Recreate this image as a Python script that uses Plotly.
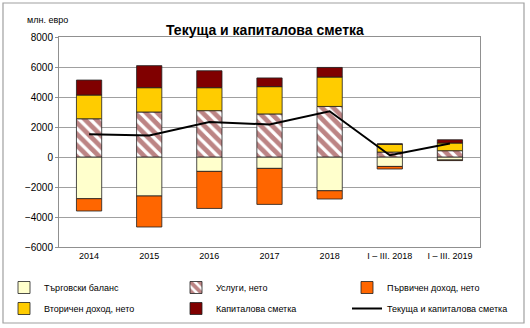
import plotly.graph_objects as go

categories = ["2014", "2015", "2016", "2017", "2018", "I – III. 2018", "I – III. 2019"]
trade_balance = [-2780, -2600, -960, -760, -2250, -630, -200]
services = [2550, 3000, 3090, 2870, 3370, 330, 420]
primary_income = [-820, -2067, -2470, -2400, -550, -170, -40]
secondary_income = [1580, 1620, 1530, 1820, 1960, 520, 510]
capital_account = [1000, 1470, 1130, 580, 640, 30, 220]
current_capital = [1510, 1440, 2330, 2170, 3050, 120, 900]

tick_vals = [-6000, -4000, -2000, 0, 2000, 4000, 6000, 8000]

FONT = "Liberation Sans, Arial, sans-serif"
bar_line = dict(color="#202020", width=0.8)
W = 0.42

fig = go.Figure()
fig.add_trace(go.Bar(x=categories, y=trade_balance, name="Търговски баланс", width=W,
                     legend="legend", legendgroup="a",
                     marker=dict(color="#FFFFCC", line=bar_line)))
fig.add_trace(go.Bar(x=categories, y=services, name="Услуги, нето", width=W,
                     legend="legend2", legendgroup="b",
                     marker=dict(color="white", line=bar_line,
                                 pattern=dict(shape="\\", fgcolor="#7A0A0A", bgcolor="white",
                                              size=8, solidity=0.6))))
fig.add_trace(go.Bar(x=categories, y=primary_income, name="Първичен доход, нето", width=W,
                     legend="legend3", legendgroup="c",
                     marker=dict(color="#FF6600", line=bar_line)))
fig.add_trace(go.Bar(x=categories, y=secondary_income, name="Вторичен доход, нето", width=W,
                     legend="legend", legendgroup="d",
                     marker=dict(color="#FFCC00", line=bar_line)))
fig.add_trace(go.Bar(x=categories, y=capital_account, name="Капиталова сметка", width=W,
                     legend="legend2", legendgroup="e",
                     marker=dict(color="#800000", line=bar_line)))
fig.add_trace(go.Scatter(x=categories, y=current_capital, name="Текуща и капиталова сметка",
                         legend="legend3", legendgroup="f",
                         mode="lines", line=dict(color="black", width=2)))

L, T, PW, PH = 59, 37, 421, 210


def leg(xpx):
    return dict(orientation="v", x=(xpx - L) / PW, y=(T + PH - 273) / PH,
                xanchor="left", yanchor="top", traceorder="grouped", tracegroupgap=2,
                font=dict(size=9, family=FONT), itemwidth=30, bgcolor="rgba(0,0,0,0)")


fig.update_layout(
    width=530, height=328,
    margin=dict(l=L, r=530 - L - PW, t=T, b=328 - T - PH, autoexpand=False),
    barmode="relative",
    paper_bgcolor="white", plot_bgcolor="white",
    font=dict(family=FONT, size=9, color="black"),
    showlegend=True,
    legend=leg(4), legend2=leg(176), legend3=leg(347),
    annotations=[
        dict(text="<b>Текуща и капиталова сметка</b>", x=(265 - L) / PW, y=(T + PH - 20) / PH,
             xref="paper", yref="paper", showarrow=False, font=dict(size=14, family=FONT)),
        dict(text="млн. евро", x=(25 - L) / PW, y=(T + PH - 20) / PH, xref="paper", yref="paper",
             xanchor="left", yanchor="middle", showarrow=False, font=dict(size=9, family=FONT)),
    ],
    shapes=[
        dict(type="rect", xref="paper", yref="paper",
             x0=(3 - L) / PW, x1=(524 - L) / PW, y0=(T + PH - 323) / PH, y1=(T + PH - 3) / PH,
             line=dict(color="#A0A0A0", width=1.2), fillcolor="rgba(0,0,0,0)", layer="below"),
    ],
)

fig.update_xaxes(showgrid=False, showline=True, linecolor="#909090", linewidth=1, mirror=True,
                 ticks="", tickfont=dict(size=9, family=FONT), range=[-0.5, 6.5])
fig.update_yaxes(range=[-6000, 8000], tickvals=tick_vals, showgrid=True, gridcolor="#A0A0A0",
                 gridwidth=1, showline=True, linecolor="#909090", linewidth=1, mirror=True,
                 ticks="outside", ticklen=3, tickcolor="#909090",
                 zeroline=True, zerolinecolor="#A0A0A0", zerolinewidth=1,
                 tickfont=dict(size=10, family=FONT))

fig.write_html("out.html")
